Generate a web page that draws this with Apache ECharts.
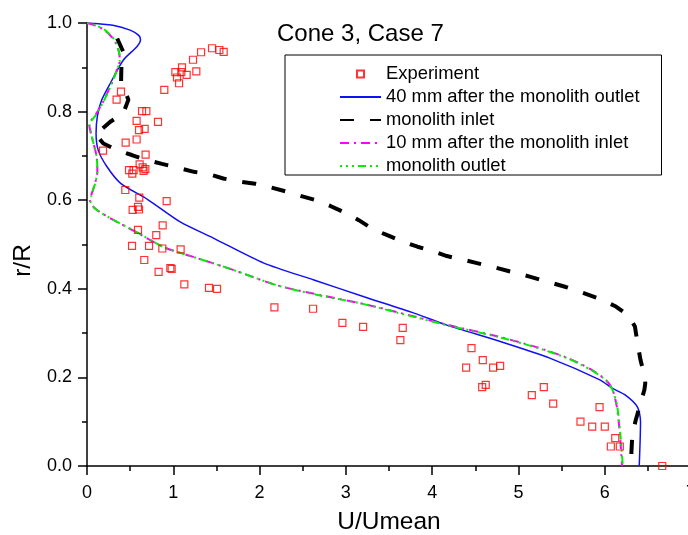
<!DOCTYPE html>
<html>
<head>
<meta charset="utf-8">
<script src="https://cdn.jsdelivr.net/npm/echarts@6/dist/echarts.min.js"></script>
<style>
html,body{margin:0;padding:0;background:#fff;}
#chart{width:688px;height:535px;}
</style>
</head>
<body>
<div id="chart"></div>
<script>
// ---- data ----
var titleText = "Cone 3, Case 7";
var xName = "U/Umean";
var yName = "r/R";
var seriesNames = ["Experiment", "40 mm after the monolith outlet", "monolith inlet", "10 mm after the monolith inlet", "monolith outlet"];

var experiment = [
[1.449,0.943],[1.534,0.939],[1.584,0.935],[1.322,0.934],[1.229,0.917],[1.101,0.900],[1.024,0.889],[1.093,0.889],
[1.267,0.891],[1.155,0.883],[1.043,0.877],[1.067,0.864],[0.896,0.849],[0.394,0.845],[0.343,0.827],[0.638,0.801],
[0.688,0.801],[0.575,0.779],[0.823,0.777],[0.603,0.758],[0.668,0.761],[0.575,0.737],[0.448,0.730],[0.186,0.712],
[0.679,0.703],[0.610,0.681],[0.645,0.674],[0.487,0.668],[0.540,0.668],[0.676,0.670],[0.525,0.660],[0.656,0.666],
[0.444,0.623],[0.606,0.606],[0.923,0.598],[0.591,0.585],[0.529,0.578],[0.603,0.579],[0.877,0.543],[0.591,0.533],
[0.803,0.521],[0.522,0.497],[0.719,0.497],[0.873,0.491],[1.085,0.489],[0.664,0.465],[0.830,0.438],[0.966,0.447],
[0.981,0.445],[1.128,0.410],[1.414,0.402],[1.507,0.400],[2.172,0.358],[2.620,0.355],[2.960,0.323],[3.200,0.314],
[3.659,0.312],[3.632,0.284],[4.456,0.266],[4.587,0.239],[4.394,0.222],[4.707,0.222],[4.788,0.226],[4.580,0.178],
[4.621,0.183],[5.155,0.160],[5.294,0.178],[5.403,0.141],[5.940,0.133],[5.719,0.100],[5.855,0.089],[6.001,0.089],
[6.122,0.063],[6.071,0.044],[6.175,0.044],[6.667,0.000]
];

var after40mm = [
[0,1.0],[0.3,0.995],[0.5,0.984],[0.6,0.972],[0.62,0.962],[0.58,0.947],[0.42,0.916],[0.27,0.864],[0.17,0.826],
[0.12,0.789],[0.105,0.751],[0.13,0.713],[0.23,0.676],[0.39,0.638],[0.7,0.602],[1.08,0.551],[1.47,0.514],
[2.05,0.458],[2.63,0.42],[3.21,0.382],[3.79,0.345],[4.17,0.318],[4.79,0.281],[5.37,0.243],[5.95,0.194],
[6.09,0.175],[6.24,0.16],[6.38,0.133],[6.415,0.1],[6.4,0.0]
];

var inlet = [
[0.35,0.965],[0.42,0.935],[0.40,0.913],[0.395,0.868],[0.48,0.827],[0.42,0.796],[0.27,0.777],[0.1,0.748],
[0.19,0.728],[0.35,0.713],[0.52,0.702],[0.68,0.691],[0.87,0.682],[1.04,0.674],[1.24,0.664],[1.41,0.659],
[1.58,0.649],[1.76,0.642],[1.95,0.637],[2.13,0.629],[2.32,0.619],[2.47,0.61],[2.67,0.599],[2.82,0.587],
[3.01,0.57],[3.15,0.555],[3.32,0.534],[3.48,0.521],[3.67,0.506],[3.83,0.495],[4.02,0.484],[4.17,0.474],
[4.37,0.465],[4.52,0.458],[4.71,0.449],[5.14,0.427],[5.55,0.404],[5.92,0.379],[6.13,0.36],[6.28,0.339],
[6.35,0.315],[6.38,0.278],[6.415,0.239],[6.46,0.205],[6.47,0.187],[6.46,0.172],[6.41,0.138],[6.36,0.104],
[6.32,0.07],[6.31,0.034],[6.305,0.0]
];

var after10mm = [
[0,1.0],[0.1,0.994],[0.2,0.984],[0.31,0.963],[0.37,0.935],[0.38,0.915],[0.35,0.896],[0.27,0.857],[0.19,0.823],
[0.1,0.793],[0.025,0.772],[0.06,0.74],[0.11,0.70],[0.12,0.665],[0.09,0.636],[0.05,0.612],[0.035,0.598],[0.1,0.58],
[0.3,0.556],[0.55,0.53],[0.89,0.494],[1.2,0.474],[1.66,0.445],[2.2,0.408],[2.7,0.386],[3.2,0.366],[3.6,0.347],
[4.17,0.319],[4.75,0.293],[5.18,0.27],[5.57,0.244],[5.84,0.218],[6.01,0.195],[6.09,0.173],[6.14,0.134],
[6.175,0.074],[6.2,0.0]
];

var outlet = [
[0,1.0],[0.1,0.995],[0.21,0.984],[0.32,0.962],[0.37,0.935],[0.38,0.915],[0.35,0.895],[0.27,0.856],[0.19,0.822],
[0.1,0.792],[0.03,0.77],[0.06,0.74],[0.11,0.70],[0.12,0.665],[0.09,0.635],[0.05,0.61],[0.04,0.598],[0.1,0.58],
[0.3,0.556],[0.55,0.531],[0.89,0.494],[1.2,0.474],[1.66,0.445],[2.2,0.408],[2.7,0.385],[3.2,0.366],[3.6,0.346],
[4.17,0.318],[4.75,0.292],[5.18,0.269],[5.57,0.243],[5.84,0.217],[6.01,0.194],[6.09,0.172],[6.145,0.134],
[6.18,0.074],[6.21,0.0]
];

var xTicks = {min:0, max:7, interval:1};
var yTicks = {min:0, max:1, interval:0.2};

// ---- chart ----
var FONT = "'Liberation Sans', Arial, sans-serif";
var chart = echarts.init(document.getElementById('chart'), null, {renderer:'canvas'});
var axisCommon = {
  axisLine:{show:true, lineStyle:{color:'#000', width:1.5}},
  axisTick:{show:true, inside:false, length:9, lineStyle:{color:'#000', width:1.5}},
  minorTick:{show:true, splitNumber:2, length:5, lineStyle:{color:'#000', width:1.5}},
  splitLine:{show:false}
};
var hideDot = {color:'rgba(0,0,0,0)', borderWidth:0};
chart.setOption({
  animation:false,
  backgroundColor:'#fff',
  title:{text:titleText, left:272, top:17, textStyle:{fontFamily:FONT, fontSize:24, fontWeight:'normal', color:'#000'}},
  legend:{
    orient:'vertical', left:285, top:55,
    padding:[10,22,0,54],
    itemWidth:41, itemHeight:7, itemGap:5,
    borderColor:'#000', borderWidth:1,
    textStyle:{fontFamily:FONT, fontSize:18.4, color:'#000'},
    symbolKeepAspect:true,
    data:[
      {name:seriesNames[0], icon:'path://M0,0H10V10H0Z'},
      {name:seriesNames[1], itemStyle:hideDot},
      {name:seriesNames[2], itemStyle:hideDot},
      {name:seriesNames[3], itemStyle:hideDot},
      {name:seriesNames[4], itemStyle:hideDot}
    ]
  },
  grid:{left:87, top:23, width:604, height:443, containLabel:false, outerBoundsMode:'none'},
  xAxis:Object.assign({}, axisCommon, {
    type:'value', min:xTicks.min, max:xTicks.max, interval:xTicks.interval,
    name:xName, nameLocation:'middle', nameGap:44,
    nameTextStyle:{fontFamily:FONT, fontSize:24.5, color:'#000'},
    axisLabel:{fontFamily:FONT, fontSize:18, color:'#000', margin:18, showMaxLabel:true}
  }),
  yAxis:Object.assign({}, axisCommon, {
    type:'value', min:yTicks.min, max:yTicks.max, interval:yTicks.interval,
    name:yName, nameLocation:'middle', nameGap:45,
    nameTextStyle:{fontFamily:FONT, fontSize:24.5, color:'#000', padding:[0,32,0,0]},
    axisLabel:{fontFamily:FONT, fontSize:18, color:'#000', margin:15, formatter:function(v){return v.toFixed(1);}}
  }),
  series:[
    {name:seriesNames[1], type:'line', data:after40mm, symbol:'none', smooth:0.25, lineStyle:{color:'#1010f0', width:1.5}, itemStyle:{color:'#1010f0'}, z:3},
    {name:seriesNames[2], type:'line', data:inlet, symbol:'none', lineStyle:{color:'#000', width:4, type:[14,16]}, itemStyle:{color:'#000'}, z:3},
    {name:seriesNames[3], type:'line', data:after10mm, symbol:'none', smooth:0.25, lineStyle:{color:'#ff00ff', width:2, type:[9,5,2,5]}, itemStyle:{color:'#ff00ff'}, z:3},
    {name:seriesNames[4], type:'line', data:outlet, symbol:'none', smooth:0.25, lineStyle:{color:'#00ee00', width:2, type:[8,4,2,4,2,4], dashOffset:6}, itemStyle:{color:'#00ee00'}, z:3},
    {name:seriesNames[0], type:'scatter', data:experiment, symbol:'rect', symbolSize:7,
     itemStyle:{color:'rgba(255,255,255,0)', borderColor:'#ff0000', borderWidth:1.2}, z:4}
  ]
});
</script>
</body>
</html>
